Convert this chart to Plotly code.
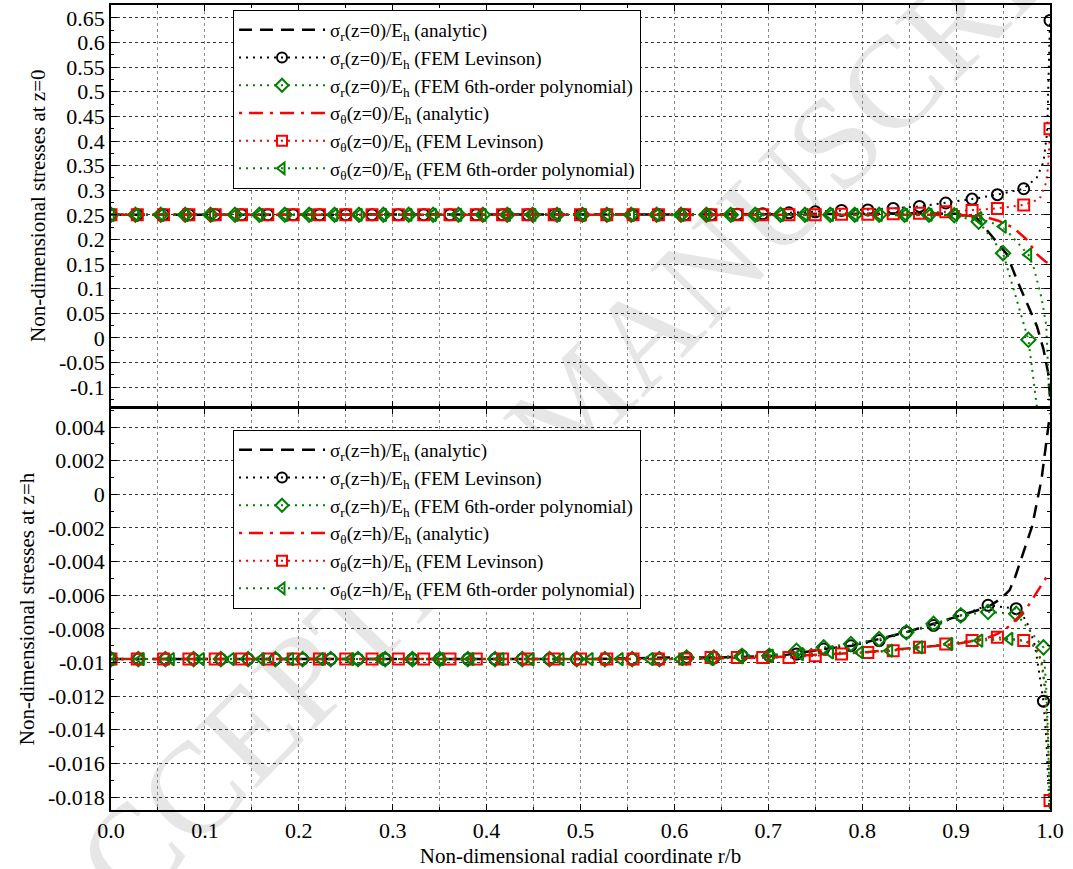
import plotly.graph_objects as go

# ---------------- DATA ----------------
# x grids of the FEM nodes
x_lev = [0.000, 0.028, 0.056, 0.083, 0.111, 0.139, 0.167, 0.194, 0.222, 0.250, 0.278, 0.306,
         0.333, 0.361, 0.389, 0.417, 0.444, 0.472, 0.500, 0.528, 0.556, 0.583, 0.611, 0.639,
         0.667, 0.694, 0.722, 0.750, 0.778, 0.806, 0.833, 0.861, 0.889, 0.917, 0.944, 0.972, 1.000]
x_poly_top = [0.000, 0.026, 0.053, 0.079, 0.106, 0.132, 0.158, 0.185, 0.211, 0.238, 0.264, 0.290,
              0.317, 0.343, 0.370, 0.396, 0.422, 0.449, 0.475, 0.502, 0.528, 0.554, 0.581, 0.607,
              0.634, 0.660, 0.686, 0.713, 0.739, 0.766, 0.792, 0.818, 0.845, 0.871, 0.898, 0.924,
              0.950, 0.977]
x_bot_rd = [0.000, 0.029, 0.058, 0.088, 0.117, 0.146, 0.175, 0.204, 0.234, 0.263, 0.292, 0.321,
            0.350, 0.380, 0.409, 0.438, 0.467, 0.496, 0.526, 0.555, 0.584, 0.613, 0.642, 0.672,
            0.701, 0.730, 0.759, 0.788, 0.818, 0.847, 0.876, 0.905, 0.934, 0.964, 0.993]
x_bot_tri = [0.000, 0.032, 0.064, 0.096, 0.128, 0.160, 0.191, 0.223, 0.255, 0.287, 0.319, 0.351,
             0.383, 0.415, 0.447, 0.479, 0.510, 0.542, 0.574, 0.606, 0.638, 0.670, 0.702, 0.734,
             0.766, 0.798, 0.829, 0.861, 0.893, 0.925, 0.957]

# ---- top panel: z = 0 ----
top_sr_an_x = [0.0, 0.1, 0.2, 0.3, 0.4, 0.5, 0.6, 0.7, 0.8, 0.85, 0.9, 0.922, 0.938, 0.954,
               0.966, 0.977, 0.986, 0.993, 0.998, 1.0]
top_sr_an_y = [0.250, 0.250, 0.250, 0.250, 0.250, 0.250, 0.250, 0.251, 0.252, 0.253, 0.252, 0.243,
               0.207, 0.170, 0.112, 0.062, 0.024, -0.023, -0.071, -0.120]
top_st_an_x = [0.0, 0.1, 0.2, 0.3, 0.4, 0.5, 0.6, 0.7, 0.8, 0.9, 0.93, 0.945, 0.961, 0.975,
               0.986, 0.995, 1.0]
top_st_an_y = [0.250, 0.250, 0.250, 0.250, 0.250, 0.250, 0.250, 0.250, 0.250, 0.250, 0.246, 0.238,
               0.224, 0.200, 0.170, 0.155, 0.150]

top_sr_lev_y = [0.250, 0.250, 0.250, 0.250, 0.250, 0.250, 0.250, 0.250, 0.250, 0.250, 0.250, 0.250,
                0.250, 0.250, 0.250, 0.250, 0.250, 0.250, 0.250, 0.250, 0.250, 0.250, 0.250, 0.250,
                0.251, 0.252, 0.254, 0.256, 0.259, 0.260, 0.263, 0.267, 0.274, 0.282, 0.291, 0.303,
                0.645]
top_sr_lev_tail_x = [0.986, 0.993, 0.997, 0.9985]
top_sr_lev_tail_y = [0.326, 0.357, 0.418, 0.540]

top_st_lev_y = [0.250, 0.250, 0.250, 0.250, 0.250, 0.250, 0.250, 0.250, 0.250, 0.250, 0.250, 0.250,
                0.250, 0.250, 0.250, 0.250, 0.250, 0.250, 0.250, 0.250, 0.250, 0.250, 0.250, 0.250,
                0.250, 0.250, 0.250, 0.250, 0.251, 0.251, 0.252, 0.253, 0.256, 0.259, 0.263, 0.270,
                0.425]
top_st_lev_tail_x = [0.989, 0.996, 0.998, 0.999]
top_st_lev_tail_y = [0.282, 0.316, 0.350, 0.384]

top_sr_poly_y = [0.250, 0.250, 0.250, 0.250, 0.250, 0.250, 0.250, 0.250, 0.250, 0.250, 0.250, 0.250,
                 0.250, 0.250, 0.250, 0.250, 0.250, 0.250, 0.250, 0.250, 0.250, 0.250, 0.250, 0.250,
                 0.250, 0.250, 0.250, 0.250, 0.250, 0.250, 0.250, 0.250, 0.250, 0.250, 0.249, 0.236,
                 0.172, -0.004]
top_sr_poly_tail_x = [1.0]
top_sr_poly_tail_y = [-0.350]

top_st_poly_y = [0.250, 0.250, 0.250, 0.250, 0.250, 0.250, 0.250, 0.250, 0.250, 0.250, 0.250, 0.250,
                 0.250, 0.250, 0.250, 0.250, 0.250, 0.250, 0.250, 0.250, 0.250, 0.250, 0.250, 0.250,
                 0.250, 0.250, 0.250, 0.250, 0.250, 0.250, 0.250, 0.250, 0.250, 0.250, 0.250, 0.243,
                 0.226, 0.169]
top_st_poly_tail_x = [0.983, 0.991, 0.996, 1.0]
top_st_poly_tail_y = [0.141, 0.081, 0.026, -0.160]

# ---- bottom panel: z = h ----
bot_sr_an_x = [0.0, 0.1, 0.2, 0.3, 0.4, 0.5, 0.6, 0.65, 0.713, 0.759, 0.789, 0.818, 0.847, 0.876,
               0.905, 0.934, 0.948, 0.957, 0.963, 0.970, 0.981, 0.991, 1.0]
bot_sr_an_y = [-0.0098, -0.0098, -0.0098, -0.0098, -0.0098, -0.0098, -0.0097, -0.0097, -0.0096,
               -0.0092, -0.0090, -0.0086, -0.0082, -0.0077, -0.0072, -0.0067, -0.0062, -0.0057,
               -0.0049, -0.0037, -0.0019, 0.0009, 0.0048]
bot_st_an_x = [0.0, 0.1, 0.2, 0.3, 0.4, 0.5, 0.6, 0.7, 0.8, 0.9, 0.93, 0.944, 0.958, 0.976, 0.994, 1.0]
bot_st_an_y = [-0.0098, -0.0098, -0.0098, -0.0098, -0.0098, -0.0098, -0.0098, -0.0097, -0.0094,
               -0.0089, -0.0086, -0.0083, -0.0078, -0.0067, -0.0051, -0.0046]

bot_sr_lev_y = [-0.0098, -0.0098, -0.0098, -0.0098, -0.0098, -0.0098, -0.0098, -0.0098, -0.0098,
                -0.0098, -0.0098, -0.0098, -0.0098, -0.0098, -0.0098, -0.0098, -0.0098, -0.0098,
                -0.0098, -0.0098, -0.0098, -0.0097, -0.0097, -0.0096, -0.0096, -0.0095, -0.0092,
                -0.0090, -0.0087, -0.0082, -0.0078, -0.0072, -0.0066, -0.0068, -0.0123]
bot_sr_lev_tail_x = [0.969, 0.977, 0.984, 0.989, 0.996, 0.998, 1.0]
bot_sr_lev_tail_y = [-0.0070, -0.0078, -0.0090, -0.0108, -0.0145, -0.0165, -0.0195]

bot_st_lev_y = [-0.0098, -0.0098, -0.0098, -0.0098, -0.0098, -0.0098, -0.0098, -0.0098, -0.0098,
                -0.0098, -0.0098, -0.0098, -0.0098, -0.0098, -0.0098, -0.0098, -0.0098, -0.0098,
                -0.0098, -0.0098, -0.0098, -0.0098, -0.0098, -0.0097, -0.0097, -0.0097, -0.0097,
                -0.0096, -0.0095, -0.0094, -0.0093, -0.0091, -0.0089, -0.0087, -0.0085, -0.0087,
                -0.0182]
bot_st_lev_tail_x = [0.986, 0.992, 0.995, 0.997, 0.999]
bot_st_lev_tail_y = [-0.0091, -0.0102, -0.0120, -0.0140, -0.0160]

bot_sr_poly_y = [-0.0098, -0.0098, -0.0098, -0.0098, -0.0098, -0.0098, -0.0098, -0.0098, -0.0098,
                 -0.0098, -0.0098, -0.0098, -0.0098, -0.0098, -0.0098, -0.0098, -0.0098, -0.0098,
                 -0.0098, -0.0098, -0.0098, -0.0097, -0.0097, -0.0096, -0.0096, -0.0093, -0.0091,
                 -0.0089, -0.0086, -0.0082, -0.0077, -0.0072, -0.0070, -0.0071, -0.0091]
bot_sr_poly_tail_x = [0.996, 0.998, 1.0]
bot_sr_poly_tail_y = [-0.0115, -0.0145, -0.0195]

bot_st_poly_y = [-0.0098, -0.0098, -0.0098, -0.0098, -0.0098, -0.0098, -0.0098, -0.0098, -0.0098,
                 -0.0098, -0.0098, -0.0098, -0.0098, -0.0098, -0.0098, -0.0098, -0.0098, -0.0098,
                 -0.0098, -0.0098, -0.0098, -0.0097, -0.0096, -0.0095, -0.0094, -0.0094, -0.0093,
                 -0.0091, -0.0089, -0.0087, -0.0086]
bot_st_poly_tail_x = [0.980, 0.990, 0.995, 0.998, 1.0]
bot_st_poly_tail_y = [-0.0088, -0.0098, -0.0115, -0.0145, -0.0195]

# tick labels
x_tick_vals = [0.0, 0.1, 0.2, 0.3, 0.4, 0.5, 0.6, 0.7, 0.8, 0.9, 1.0]
x_tick_text = ["0.0", "0.1", "0.2", "0.3", "0.4", "0.5", "0.6", "0.7", "0.8", "0.9", "1.0"]
x_minor_vals = [0.05, 0.15, 0.25, 0.35, 0.45, 0.55, 0.65, 0.75, 0.85, 0.95]
top_tick_vals = [0.65, 0.6, 0.55, 0.5, 0.45, 0.4, 0.35, 0.3, 0.25, 0.2, 0.15, 0.1, 0.05, 0.0, -0.05, -0.1]
top_tick_text = ["0.65", "0.6", "0.55", "0.5", "0.45", "0.4", "0.35", "0.3", "0.25", "0.2", "0.15",
                 "0.1", "0.05", "0", "-0.05", "-0.1"]
bot_tick_vals = [0.004, 0.002, 0.0, -0.002, -0.004, -0.006, -0.008, -0.01, -0.012, -0.014, -0.016, -0.018]
bot_tick_text = ["0.004", "0.002", "0", "-0.002", "-0.004", "-0.006", "-0.008", "-0.01", "-0.012",
                 "-0.014", "-0.016", "-0.018"]

top_names = ["σ<sub>r</sub>(z=0)/E<sub>h</sub> (analytic)",
             "σ<sub>r</sub>(z=0)/E<sub>h</sub> (FEM Levinson)",
             "σ<sub>r</sub>(z=0)/E<sub>h</sub> (FEM 6th-order polynomial)",
             "σ<sub>θ</sub>(z=0)/E<sub>h</sub> (analytic)",
             "σ<sub>θ</sub>(z=0)/E<sub>h</sub> (FEM Levinson)",
             "σ<sub>θ</sub>(z=0)/E<sub>h</sub> (FEM 6th-order polynomial)"]
bot_names = [n.replace("z=0", "z=h") for n in top_names]

# ---------------- STYLE ----------------
FONT = "Liberation Serif"
BLACK, RED, GREEN = "#000000", "#ff0000", "#008000"
DASH = "13px,8px"
DASHDOT = "3px,7px,14px,7px"
DOT = "2px,5px"

styles = [
    dict(color=BLACK, dash=DASH, width=2.5, symbol=None),
    dict(color=BLACK, dash=DOT, width=2, symbol="circle-open"),
    dict(color=GREEN, dash=DOT, width=2, symbol="diamond-open"),
    dict(color=RED, dash=DASHDOT, width=2.5, symbol=None),
    dict(color=RED, dash=DOT, width=2, symbol="square-open"),
    dict(color=GREEN, dash=DOT, width=2, symbol="triangle-left-open"),
]


def merge(xm, ym, xt, yt):
    pts = sorted(list(zip(xm, ym)) + list(zip(xt, yt)))
    return [p[0] for p in pts], [p[1] for p in pts]


fig = go.Figure()


def add_panel(xa, ya, legend, names, series):
    # legend-only entries
    for name, st in zip(names, styles):
        mode = "lines" if st["symbol"] is None else "lines+markers"
        fig.add_trace(go.Scatter(
            x=[None], y=[None], mode=mode, name=name, legend=legend,
            xaxis=xa, yaxis=ya,
            line=dict(color=st["color"], dash=st["dash"], width=st["width"]),
            marker=dict(symbol=st["symbol"] or "circle", size=10, color=st["color"],
                        line=dict(width=2, color=st["color"]))))
    for (kind, data), st in zip(series, styles):
        if kind == "line":
            x, y = data
            fig.add_trace(go.Scatter(x=x, y=y, mode="lines", showlegend=False,
                                     xaxis=xa, yaxis=ya, hoverinfo="skip",
                                     line=dict(color=st["color"], dash=st["dash"], width=st["width"])))
        else:
            xm, ym, xt, yt = data
            lx, ly = merge(xm, ym, xt, yt)
            fig.add_trace(go.Scatter(x=lx, y=ly, mode="lines", showlegend=False,
                                     xaxis=xa, yaxis=ya, hoverinfo="skip",
                                     line=dict(color=st["color"], dash=st["dash"], width=st["width"])))
            fig.add_trace(go.Scatter(x=xm, y=ym, mode="markers", showlegend=False,
                                     xaxis=xa, yaxis=ya,
                                     marker=dict(symbol=st["symbol"], size=11, color=st["color"],
                                                 line=dict(width=2, color=st["color"]))))


add_panel("x", "y", "legend", top_names, [
    ("line", (top_sr_an_x, top_sr_an_y)),
    ("fem", (x_lev, top_sr_lev_y, top_sr_lev_tail_x, top_sr_lev_tail_y)),
    ("fem", (x_poly_top, top_sr_poly_y, top_sr_poly_tail_x, top_sr_poly_tail_y)),
    ("line", (top_st_an_x, top_st_an_y)),
    ("fem", (x_lev, top_st_lev_y, top_st_lev_tail_x, top_st_lev_tail_y)),
    ("fem", (x_poly_top, top_st_poly_y, top_st_poly_tail_x, top_st_poly_tail_y)),
])
add_panel("x2", "y2", "legend2", bot_names, [
    ("line", (bot_sr_an_x, bot_sr_an_y)),
    ("fem", (x_bot_rd, bot_sr_lev_y, bot_sr_lev_tail_x, bot_sr_lev_tail_y)),
    ("fem", (x_bot_rd, bot_sr_poly_y, bot_sr_poly_tail_x, bot_sr_poly_tail_y)),
    ("line", (bot_st_an_x, bot_st_an_y)),
    ("fem", (x_lev, bot_st_lev_y, bot_st_lev_tail_x, bot_st_lev_tail_y)),
    ("fem", (x_bot_tri, bot_st_poly_y, bot_st_poly_tail_x, bot_st_poly_tail_y)),
])

W, H = 1073, 869
XD = [111 / W, 1050 / W]
YD_TOP = [1 - 406.5 / H, 1 - 5 / H]
YD_BOT = [1 - 810 / H, 1 - 408 / H]
TICKF = dict(family=FONT, size=22, color="black")

common_x = dict(range=[0, 1], domain=XD, tickvals=x_tick_vals, ticktext=x_tick_text,
                ticks="inside", ticklen=6, tickcolor="black", automargin=False,
                showgrid=True, gridcolor="#8c8c8c", griddash="dot", gridwidth=1,
                minor=dict(tickmode="array", tickvals=x_minor_vals,
                           showgrid=True, gridcolor="#8c8c8c", griddash="dot", gridwidth=1,
                           ticks="inside", ticklen=3, tickcolor="black"),
                showline=True, linecolor="black", linewidth=1.5, mirror="ticks", zeroline=False,
                tickfont=TICKF)
common_y = dict(ticks="inside", ticklen=6, tickcolor="black", automargin=False,
                showgrid=True, gridcolor="#333333", griddash="dot", gridwidth=1,
                showline=True, linecolor="black", linewidth=1.5, mirror="ticks", zeroline=False,
                tickfont=TICKF)

legend_common = dict(xanchor="left", yanchor="top", bgcolor="white", bordercolor="black",
                     borderwidth=1, font=dict(family=FONT, size=19, color="black"),
                     itemwidth=86, tracegroupgap=0)

fig.update_layout(
    width=W, height=H, margin=dict(l=0, r=0, t=0, b=0, autoexpand=False),
    paper_bgcolor="white", plot_bgcolor="rgba(0,0,0,0)",
    font=dict(family=FONT, color="black"),
    xaxis=dict(common_x, anchor="y", showticklabels=False),
    xaxis2=dict(common_x, anchor="y2",
                title=dict(text="Non-dimensional radial coordinate r/b",
                           font=dict(family=FONT, size=21), standoff=6)),
    yaxis=dict(common_y, domain=YD_TOP, range=[-0.1396, 0.6764], anchor="x",
               tickvals=top_tick_vals, ticktext=top_tick_text,
               minor=dict(tickmode="linear", tick0=0.025, dtick=0.05, ticks="inside", ticklen=3,
                          tickcolor="black", showgrid=False),
               title=dict(text="Non-dimensional stresses at z=0", font=dict(family=FONT, size=21),
                          standoff=8)),
    yaxis2=dict(common_y, domain=YD_BOT, range=[-0.01877, 0.00513], anchor="x2",
                tickvals=bot_tick_vals, ticktext=bot_tick_text,
                minor=dict(tickmode="linear", tick0=0.001, dtick=0.002, ticks="inside", ticklen=3,
                           tickcolor="black", showgrid=False),
                title=dict(text="Non-dimensional stresses at z=h", font=dict(family=FONT, size=21),
                           standoff=8)),
    legend=dict(legend_common, x=233 / W, y=1 - 10 / H),
    legend2=dict(legend_common, x=233 / W, y=1 - 430 / H),
    showlegend=True,
    shapes=[dict(type="line", xref="paper", yref="paper", x0=120 / W, y0=1 - 950 / H,
                 x1=1120 / W, y1=1 - (-60) / H, layer="below", line=dict(width=0, color="rgba(0,0,0,0)"),
                 label=dict(text="ACCEPTED MANUSCRIPT", textposition="middle",
                            font=dict(family=FONT, size=130, color="#e6e6e6")))],
)

fig.write_html("out.html")
